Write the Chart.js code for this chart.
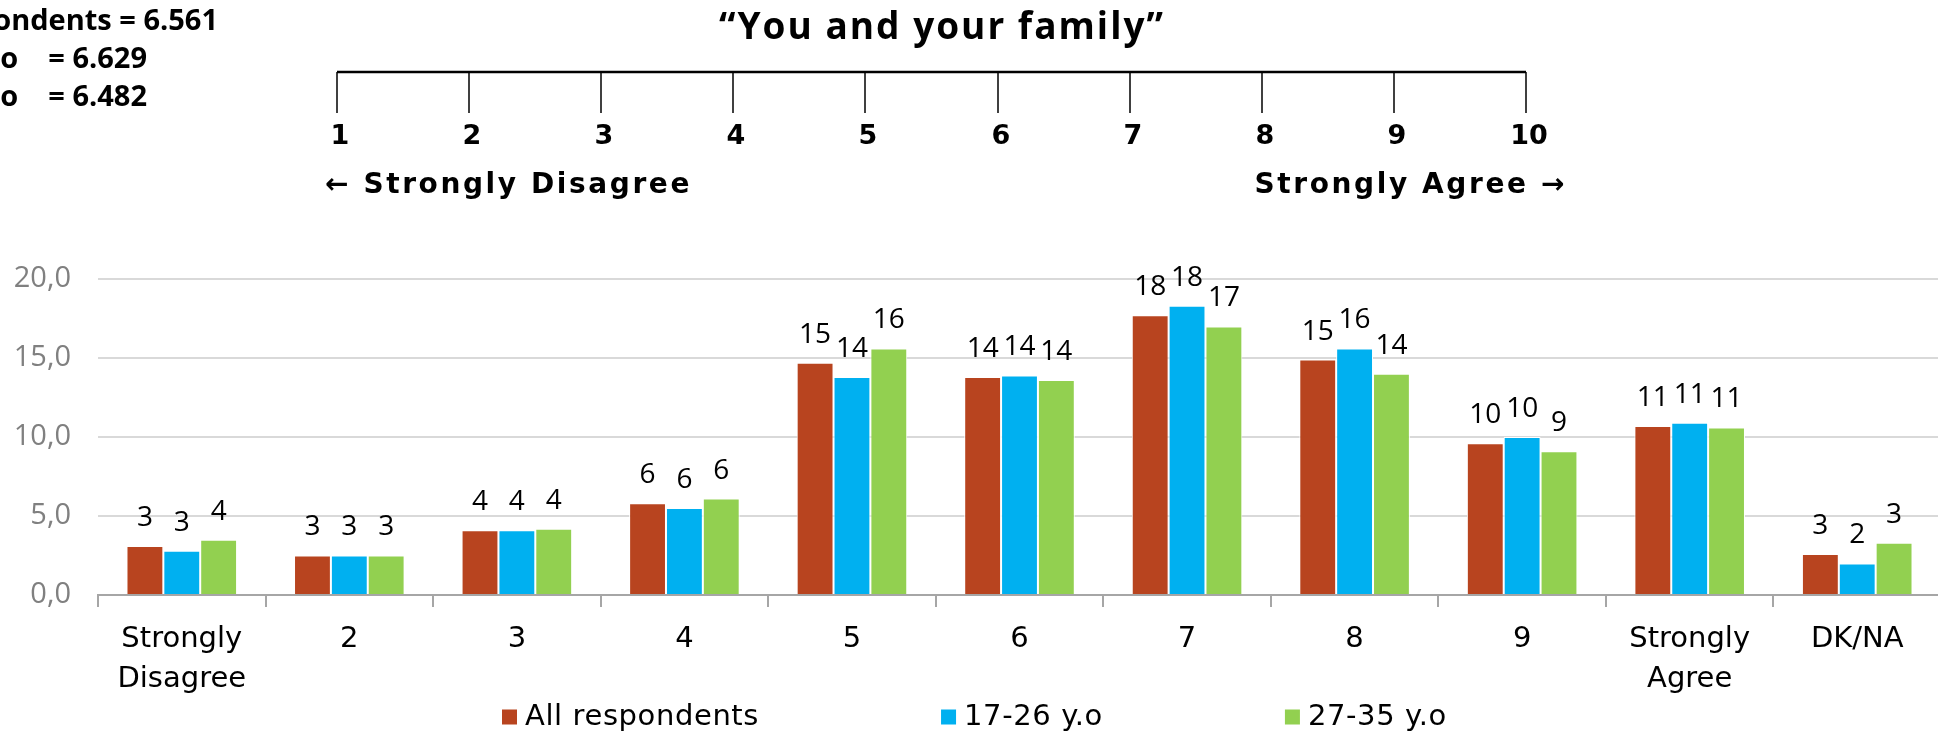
<!DOCTYPE html>
<html>
<head>
<meta charset="utf-8">
<script src="https://cdn.jsdelivr.net/npm/chart.js@4.4.0/dist/chart.umd.min.js"></script>
<style>
  html, body { margin: 0; padding: 0; background: #fff; overflow: hidden; }
  #wrap { position: relative; width: 1938px; height: 736px; overflow: hidden; }
  #wrap canvas { position: absolute; left: 0; top: 0; }
</style>
</head>
<body>
<div id="wrap"><canvas id="familyChart" width="1945" height="736"></canvas></div>
<script>
// answers per scale point, % of respondents
const categories = [["Strongly", "Disagree"], "2", "3", "4", "5", "6", "7", "8", "9", ["Strongly", "Agree"], "DK/NA"];
const seriesNames = ["All respondents", "17-26 y.o", "27-35 y.o"];
const allRespondents = [3.1, 2.5, 4.1, 5.8, 14.7, 13.8, 17.7, 14.9, 9.6, 10.7, 2.6];
const age17to26 = [2.8, 2.5, 4.1, 5.5, 13.8, 13.9, 18.3, 15.6, 10.0, 10.9, 2.0];
const age27to35 = [3.5, 2.5, 4.2, 6.1, 15.6, 13.6, 17.0, 14.0, 9.1, 10.6, 3.3];
const seriesColors = ["#B8441F", "#00B0F0", "#92D050"];
const yTicks = [0, 5, 10, 15, 20];

// header: question, answer scale and mean scores
const questionTitle = "\u201CYou and your family\u201D";
const scaleNumbers = ["1", "2", "3", "4", "5", "6", "7", "8", "9", "10"];
const scaleEnds = ["\u2190 Strongly Disagree", "Strongly Agree \u2192"];
const meanScores = ["All respondents = 6.561", "17-26 y.o    = 6.629", "27-35 y.o    = 6.482"];

const FONT = '"Open Sans", "DejaVu Sans", sans-serif';
const WIDE_FONT = '"DejaVu Sans", sans-serif';

const valueLabels = {
    id: "valueLabels",
    afterDatasetsDraw(chart) {
        const ctx = chart.ctx;
        ctx.save();
        ctx.font = "28px " + FONT;
        ctx.fillStyle = "#000";
        ctx.textAlign = "center";
        ctx.textBaseline = "middle";
        chart.data.datasets.forEach((ds, i) => {
            chart.getDatasetMeta(i).data.forEach((bar, j) => {
                ctx.fillText(String(Math.round(ds.data[j])), bar.x, bar.y - 28);
            });
        });
        ctx.restore();
    }
};

const header = {
    id: "header",
    afterDraw(chart) {
        const ctx = chart.ctx;
        ctx.save();
        ctx.fillStyle = "#000";
        ctx.textBaseline = "middle";

        // mean scores, partly cut off at the left edge
        ctx.font = "bold 29px " + FONT;
        ctx.textAlign = "right";
        ctx.fillText(meanScores[0], 218, 22);
        ctx.fillText(meanScores[1], 147, 60);
        ctx.fillText(meanScores[2], 147, 98);

        ctx.textAlign = "center";
        ctx.font = "bold 37px " + FONT;
        ctx.letterSpacing = "2px";
        ctx.fillText(questionTitle, 942, 28);
        ctx.letterSpacing = "0px";

        // answer scale
        const left = 337, right = 1526, lineY = 72, tickBottom = 113;
        const step = (right - left) / (scaleNumbers.length - 1);
        ctx.strokeStyle = "#000";
        ctx.lineWidth = 2.5;
        ctx.beginPath();
        ctx.moveTo(left, lineY);
        ctx.lineTo(right, lineY);
        ctx.stroke();
        ctx.lineWidth = 1.5;
        ctx.font = "bold 27px 'DejaVu Sans', sans-serif";
        scaleNumbers.forEach((n, i) => {
            const x = Math.round(left + i * step);
            ctx.beginPath();
            ctx.moveTo(x, lineY);
            ctx.lineTo(x, tickBottom);
            ctx.stroke();
            ctx.fillText(n, x + 3, 137);
        });
        ctx.font = "bold 28px 'DejaVu Sans', sans-serif";
        ctx.letterSpacing = "2.6px";
        ctx.textAlign = "left";
        ctx.fillText(scaleEnds[0], 325, 186);
        ctx.textAlign = "right";
        ctx.fillText(scaleEnds[1], 1567, 186);
        ctx.restore();
    }
};

const bottomLegend = {
    id: "bottomLegend",
    afterDraw(chart) {
        const ctx = chart.ctx;
        ctx.save();
        ctx.font = "29px " + WIDE_FONT;
        ctx.letterSpacing = "0.6px";
        ctx.textBaseline = "middle";
        ctx.textAlign = "left";
        let x = 502;
        const y = 717, box = 15, gap = 8, spacing = 182;
        chart.data.datasets.forEach(ds => {
            ctx.fillStyle = ds.backgroundColor;
            ctx.fillRect(x, y - box / 2, box, box);
            ctx.fillStyle = "#000";
            ctx.fillText(ds.label, x + box + gap, y);
            x += box + gap + ctx.measureText(ds.label).width + spacing;
        });
        ctx.restore();
    }
};

const ctx = document.getElementById("familyChart").getContext("2d");
new Chart(ctx, {
    type: "bar",
    data: {
        labels: categories,
        datasets: [
            { label: seriesNames[0], data: allRespondents, backgroundColor: seriesColors[0] },
            { label: seriesNames[1], data: age17to26, backgroundColor: seriesColors[1] },
            { label: seriesNames[2], data: age27to35, backgroundColor: seriesColors[2] }
        ]
    },
    options: {
        responsive: false,
        animation: false,
        layout: { padding: { top: 279, right: 4, left: 0, bottom: 0 } },
        datasets: {
            bar: { categoryPercentage: 0.66, barPercentage: 1, borderColor: "#fff", borderWidth: 1 }
        },
        plugins: {
            legend: { display: false },
            tooltip: { enabled: false }
        },
        scales: {
            x: {
                grid: { drawOnChartArea: false, drawTicks: true, tickLength: 12, color: "#a6a6a6", lineWidth: 2 },
                border: { color: "#a6a6a6", width: 2 },
                ticks: {
                    color: "#000",
                    font: { family: WIDE_FONT, size: 29, lineHeight: 1.37 },
                    padding: 13,
                    maxRotation: 0,
                    autoSkip: false
                },
                afterFit: s => { s.height = 141; s.paddingLeft = 0; s.paddingRight = 0; }
            },
            y: {
                min: 0,
                max: 20,
                afterBuildTicks: s => { s.ticks = yTicks.map(v => ({ value: v })); },
                ticks: {
                    callback: v => v.toFixed(1).replace(".", ","),
                    color: "#808080",
                    font: { family: FONT, size: 29 },
                    padding: 27
                },
                grid: {
                    color: c => c.tick && c.tick.value === 0 ? "#a6a6a6" : "#d9d9d9",
                    lineWidth: 2,
                    drawTicks: false
                },
                border: { display: false },
                afterFit: s => { s.width = 98; s.paddingTop = 0; s.paddingBottom = 0; }
            }
        }
    },
    plugins: [valueLabels, header, bottomLegend]
});
</script>
</body>
</html>
